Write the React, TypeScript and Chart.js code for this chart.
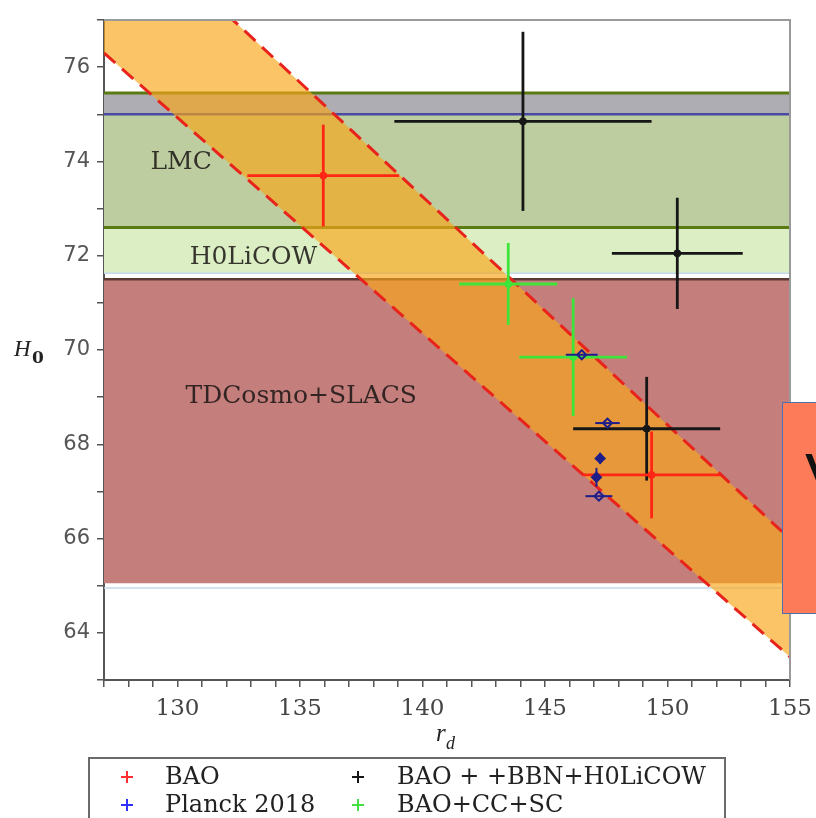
import React, { useEffect, useRef } from 'react';
import { Chart, registerables } from 'chart.js';

Chart.register(...registerables);

// ---- axes ----
const X_MIN = 127;
const X_MAX = 155;
const Y_MIN = 63;
const Y_MAX = 77;
const xTickLabels = [130, 135, 140, 145, 150, 155];
const yTickLabels = [64, 66, 68, 70, 72, 74, 76];

// ---- series (centre values and half-widths of the error crosses) ----
const seriesNames = ['BAO', 'Planck 2018', 'BAO + +BBN+H0LiCOW', 'BAO+CC+SC'];

const baoX = [135.95, 149.35];
const baoY = [73.7, 67.35];
const baoErrX = [3.1, 2.8];
const baoErrY = [1.08, 0.92];

const planckX = [146.5, 147.55, 147.25, 147.1, 147.2];
const planckY = [69.9, 68.45, 67.7, 67.3, 66.9];
const planckErrX = [0.65, 0.5, 0, 0.15, 0.55];
const planckErrY = [0, 0, 0.12, 0.2, 0];

const bbnX = [144.1, 150.4, 149.15];
const bbnY = [74.85, 72.05, 68.33];
const bbnErrX = [5.25, 2.67, 3.0];
const bbnErrY = [1.9, 1.18, 1.1];

const ccX = [143.5, 146.15];
const ccY = [71.4, 69.85];
const ccErrX = [2.0, 2.2];
const ccErrY = [0.87, 1.25];

// ---- horizontal H0 bands ----
const bandNames = ['', 'LMC', 'H0LiCOW', 'TDCosmo+SLACS'];
const bandTop = [75.45, 75.0, 72.6, 71.5];
const bandBottom = [75.0, 72.6, 71.63, 65.05];
const bandLabelX = [0, 130.15, 133.1, 135.05];
const bandLabelY = [0, 73.97, 71.97, 69.02];

const edgeValues = [75.45, 75.0, 72.6, 71.63, 71.5, 64.95];

// ---- diagonal band (dashed edges) ----
const diagX = [127, 155];
const diagUpperY = [79.55, 65.99];
const diagLowerY = [76.3, 63.49];

// ---- styles ----
const seriesColors = ['#ff2616', '#1e1e8a', '#161616', '#3ee43a'];
const legendColors = ['#ff3030', '#3030ff', '#161616', '#44e044'];
const bandColors = ['#adadb3', '#bdcd9f', '#dcefc4', '#c47e7c'];
const edgeColors = ['#5b7a12', '#4a4aa2', '#5b7a12', '#c4d8ea', '#5a3a32', '#c4d8ea'];
const edgeWidths = [3, 2.5, 3, 1.5, 2.5, 1.5];

const pts = (xs: number[], ys: number[]) => xs.map((x, i) => ({ x, y: ys[i] }));

const errorBarPlugin = {
  id: 'errorBars',
  beforeDatasetDraw(chart: any, args: any) {
    const ds: any = chart.data.datasets[args.index];
    if (!ds.errX) return;
    const { ctx, chartArea, scales } = chart;
    const xs = scales.x;
    const ys = scales.y;
    ctx.save();
    ctx.beginPath();
    ctx.rect(chartArea.left, chartArea.top, chartArea.right - chartArea.left, chartArea.bottom - chartArea.top);
    ctx.clip();
    ctx.strokeStyle = ds.barColor;
    ctx.lineWidth = ds.barWidth;
    ds.data.forEach((p: any, i: number) => {
      const ex = ds.errX[i];
      const ey = ds.errY[i];
      const px = xs.getPixelForValue(p.x);
      const py = ys.getPixelForValue(p.y);
      if (ex > 0) {
        ctx.beginPath();
        ctx.moveTo(xs.getPixelForValue(p.x - ex), py);
        ctx.lineTo(xs.getPixelForValue(p.x + ex), py);
        ctx.stroke();
      }
      if (ey > 0) {
        ctx.beginPath();
        ctx.moveTo(px, ys.getPixelForValue(p.y + ey));
        ctx.lineTo(px, ys.getPixelForValue(p.y - ey));
        ctx.stroke();
      }
    });
    ctx.restore();
  },
};

const decorPlugin = {
  id: 'decor',
  afterDatasetsDraw(chart: any) {
    const { ctx, chartArea, scales } = chart;
    // band captions
    ctx.save();
    ctx.font = '25px "DejaVu Serif"';
    ctx.fillStyle = 'rgba(25,20,20,0.85)';
    ctx.textAlign = 'center';
    ctx.textBaseline = 'middle';
    bandNames.forEach((n, i) => {
      if (!n) return;
      ctx.fillText(n, scales.x.getPixelForValue(bandLabelX[i]), scales.y.getPixelForValue(bandLabelY[i]));
    });
    ctx.restore();
    // frame top/right
    ctx.save();
    ctx.strokeStyle = '#9a9a9a';
    ctx.lineWidth = 2;
    ctx.beginPath();
    ctx.moveTo(chartArea.left, chartArea.top);
    ctx.lineTo(chartArea.right, chartArea.top);
    ctx.lineTo(chartArea.right, chartArea.bottom);
    ctx.stroke();
    ctx.restore();
  },
  afterDraw(chart: any) {
    const { ctx } = chart;
    ctx.save();
    // y title: H0
    ctx.fillStyle = '#222';
    ctx.textBaseline = 'alphabetic';
    ctx.textAlign = 'left';
    ctx.font = 'italic 23px "Liberation Serif"';
    ctx.fillText('H', 14, 356);
    ctx.font = 'bold 17px "DejaVu Serif"';
    ctx.fillText('0', 32, 363);
    // x title: r_d
    ctx.font = 'italic 25px "Liberation Serif"';
    ctx.fillText('r', 436, 741);
    ctx.font = 'italic 18px "Liberation Serif"';
    ctx.fillText('d', 446, 749);
    // legend box
    ctx.strokeStyle = '#6a6a6a';
    ctx.lineWidth = 2;
    ctx.strokeRect(89, 758, 636, 80);
    const colX = [127, 358];
    const textX = [165, 397];
    const rowY = [777, 805];
    const place = [
      [0, 0],
      [0, 1],
      [1, 0],
      [1, 1],
    ];
    ctx.font = '24px "DejaVu Serif"';
    ctx.textBaseline = 'middle';
    seriesNames.forEach((name, i) => {
      const [c, r] = place[i];
      const cx = colX[c];
      const cy = rowY[r];
      ctx.strokeStyle = legendColors[i];
      ctx.lineWidth = 2;
      ctx.beginPath();
      ctx.moveTo(cx - 6, cy);
      ctx.lineTo(cx + 6, cy);
      ctx.moveTo(cx, cy - 6);
      ctx.lineTo(cx, cy + 6);
      ctx.stroke();
      ctx.fillStyle = '#222';
      ctx.fillText(name, textX[c], cy + 1);
    });
    ctx.restore();
  },
};

export default function App() {
  const canvasRef = useRef<HTMLCanvasElement | null>(null);

  useEffect(() => {
    if (!canvasRef.current) return;
    const datasets: any[] = [];

    // error-cross series (top)
    const series = [
      { xs: baoX, ys: baoY, ex: baoErrX, ey: baoErrY },
      { xs: planckX, ys: planckY, ex: planckErrX, ey: planckErrY },
      { xs: bbnX, ys: bbnY, ex: bbnErrX, ey: bbnErrY },
      { xs: ccX, ys: ccY, ex: ccErrX, ey: ccErrY },
    ];
    series.forEach((s, i) => {
      const isPlanck = i === 1;
      datasets.push({
        label: seriesNames[i],
        data: pts(s.xs, s.ys),
        showLine: false,
        order: isPlanck ? 0 : 1,
        errX: s.ex,
        errY: s.ey,
        barColor: seriesColors[i],
        barWidth: isPlanck ? 2 : 2.8,
        pointStyle: isPlanck ? 'rectRot' : 'circle',
        pointRadius: isPlanck ? 4.5 : 3.5,
        borderWidth: isPlanck ? 2 : 1,
        pointBorderColor: seriesColors[i],
        pointBackgroundColor: isPlanck
          ? s.xs.map((_, j) => (j === 2 || j === 3 ? seriesColors[i] : 'rgba(0,0,0,0)'))
          : seriesColors[i],
      });
    });

    // diagonal dashed edges
    const upperIndex = datasets.length;
    datasets.push({
      label: 'upper',
      data: pts(diagX, diagUpperY),
      borderColor: '#e8231c',
      borderWidth: 3,
      borderDash: [15, 9],
      pointRadius: 0,
      fill: false,
      order: 2,
    });
    datasets.push({
      label: 'lower',
      data: pts(diagX, diagLowerY),
      borderColor: '#e8231c',
      borderWidth: 3,
      borderDash: [15, 9],
      pointRadius: 0,
      fill: false,
      order: 2,
    });
    datasets.push({
      label: 'diagFill',
      data: pts(diagX, diagLowerY),
      borderWidth: 0,
      borderColor: 'rgba(0,0,0,0)',
      pointRadius: 0,
      fill: upperIndex,
      backgroundColor: 'rgba(249,166,24,0.66)',
      order: 3,
    });

    // horizontal edge lines
    edgeValues.forEach((v, i) => {
      datasets.push({
        label: 'edge' + i,
        data: pts(diagX, [v, v]),
        borderColor: edgeColors[i],
        borderWidth: edgeWidths[i],
        pointRadius: 0,
        fill: false,
        order: 4,
      });
    });

    // horizontal band fills
    bandTop.forEach((t, i) => {
      datasets.push({
        label: 'band' + i,
        data: pts(diagX, [t, t]),
        borderWidth: 0,
        borderColor: 'rgba(0,0,0,0)',
        pointRadius: 0,
        fill: { value: bandBottom[i] },
        backgroundColor: bandColors[i],
        order: 5,
      });
    });

    const chart = new Chart(canvasRef.current, {
      type: 'line',
      data: { datasets },
      options: {
        responsive: false,
        animation: false,
        devicePixelRatio: 1,
        layout: { padding: { left: 0, right: 26, top: 20, bottom: 0 } },
        plugins: {
          legend: { display: false },
          tooltip: { enabled: false },
        },
        scales: {
          x: {
            type: 'linear',
            min: X_MIN,
            max: X_MAX,
            afterFit: (s: any) => {
              s.height = 138;
              s.paddingLeft = 0;
              s.paddingRight = 0;
            },
            border: { display: true, color: '#555', width: 2 },
            grid: { drawOnChartArea: false, drawTicks: true, tickLength: 7, color: '#555', lineWidth: 1.5 },
            ticks: {
              stepSize: 1,
              autoSkip: false,
              maxRotation: 0,
              padding: 8,
              color: '#444',
              font: { family: 'DejaVu Serif', size: 23 },
              callback: (v: any) => (xTickLabels.includes(Number(v)) ? String(v) : ''),
            },
          },
          y: {
            type: 'linear',
            min: Y_MIN,
            max: Y_MAX,
            afterFit: (s: any) => {
              s.width = 104;
              s.paddingTop = 0;
              s.paddingBottom = 0;
            },
            border: { display: true, color: '#555', width: 2 },
            grid: { drawOnChartArea: false, drawTicks: true, tickLength: 7, color: '#555', lineWidth: 1.5 },
            ticks: {
              stepSize: 1,
              autoSkip: false,
              padding: 7,
              color: '#555',
              font: { family: 'DejaVu Sans', size: 21 },
              callback: (v: any) => (yTickLabels.includes(Number(v)) ? String(v) : ''),
            },
          },
        },
      } as any,
      plugins: [errorBarPlugin, decorPlugin],
    });
    return () => chart.destroy();
  }, []);

  return (
    <div style={{ position: 'absolute', left: 0, top: 0, width: 816, height: 818, overflow: 'hidden', background: '#fff' }}>
      <canvas ref={canvasRef} width={816} height={818} style={{ display: 'block' }} />
      <div
        style={{
          position: 'absolute',
          left: 782,
          top: 402,
          width: 60,
          height: 210,
          background: '#fd7b59',
          border: '1.5px solid #4a70b0',
          overflow: 'hidden',
        }}
      >
        <span
          style={{
            position: 'absolute',
            left: 22,
            top: 36,
            fontFamily: '"Liberation Sans", Arial, sans-serif',
            fontSize: 66,
            lineHeight: '76px',
            color: '#111',
          }}
        >
          V
        </span>
      </div>
    </div>
  );
}
